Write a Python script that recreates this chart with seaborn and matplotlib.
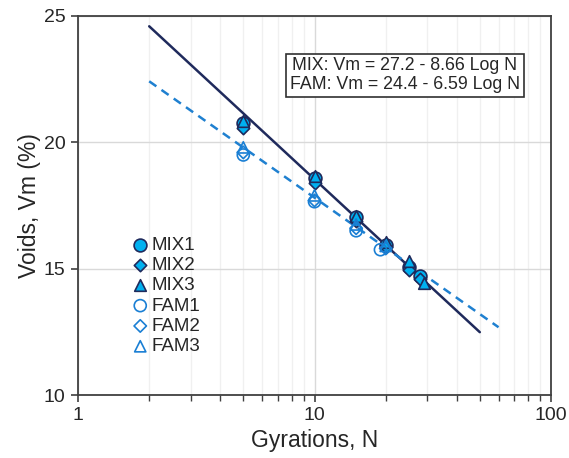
import matplotlib
matplotlib.use("Agg")
import matplotlib.pyplot as plt
import seaborn as sns
import numpy as np
import pandas as pd
from matplotlib.ticker import LogLocator, NullFormatter, FixedLocator

# ---- data ----
mix1_n = [5, 10, 15, 20, 25, 28]
mix1_v = [20.75, 18.6, 17.05, 15.95, 15.05, 14.7]
mix2_n = [5, 10, 15, 20, 25, 28]
mix2_v = [20.55, 18.4, 16.9, 15.85, 14.95, 14.6]
mix3_n = [5, 10, 15, 20, 25, 29]
mix3_v = [20.85, 18.65, 17.1, 16.05, 15.3, 14.45]
fam1_n = [5, 10, 15, 19]
fam1_v = [19.5, 17.65, 16.5, 15.75]
fam2_n = [5, 10, 15, 20]
fam2_v = [19.6, 17.7, 16.6, 15.8]
fam3_n = [5, 10, 15, 20]
fam3_v = [19.8, 17.9, 16.75, 15.9]

# regression equations shown in the chart: Vm = a - b Log N
mix_a, mix_b = 27.2, 8.66
fam_a, fam_b = 24.4, 6.59
mix_fit_n = [2, 50]
fam_fit_n = [2, 60]

x_ticks = [1, 10, 100]
y_ticks = [10, 15, 20, 25]

sns.set_theme(style="white")
plt.rcParams['font.family'] = ['Liberation Sans', 'DejaVu Sans']

fig = plt.figure(figsize=(5.69, 4.58), dpi=100)
ax = fig.add_axes([78/569, 1 - 395/458, (551-78)/569, (395-16)/458])

navy = "#1F2A5C"
mix_fill = "#00B0F0"
fam_edge = "#1A7FD4"
fam_line = "#1F80D0"

# grid
ax.set_xscale("log")
ax.set_xlim(1, 100)
ax.set_ylim(10, 25)
ax.xaxis.set_major_locator(FixedLocator(x_ticks))
ax.xaxis.set_minor_locator(LogLocator(base=10, subs=np.arange(2, 10)))
ax.xaxis.set_minor_formatter(NullFormatter())
ax.set_xticklabels([str(t) for t in x_ticks])
ax.set_yticks(y_ticks)
ax.grid(True, which="major", axis="both", color="#D9D9D9", lw=1.0, zorder=0)
ax.grid(True, which="minor", axis="x", color="#F0F0F0", lw=1.0, zorder=0)
ax.set_axisbelow(True)

# fit lines
df_mix = pd.DataFrame({"N": mix_fit_n, "Vm": [mix_a - mix_b*np.log10(n) for n in mix_fit_n]})
df_fam = pd.DataFrame({"N": fam_fit_n, "Vm": [fam_a - fam_b*np.log10(n) for n in fam_fit_n]})
sns.lineplot(data=df_mix, x="N", y="Vm", ax=ax, color=navy, lw=1.8, zorder=3)
sns.lineplot(data=df_fam, x="N", y="Vm", ax=ax, color=fam_line, lw=1.8, zorder=3,
             linestyle=(0, (3.5, 2.5)))

series = [
    ("MIX1", mix1_n, mix1_v, "o", mix_fill, navy, 85),
    ("MIX2", mix2_n, mix2_v, "D", mix_fill, navy, 40),
    ("MIX3", mix3_n, mix3_v, "^", mix_fill, navy, 70),
    ("FAM1", fam1_n, fam1_v, "o", "none", fam_edge, 75),
    ("FAM2", fam2_n, fam2_v, "D", "none", fam_edge, 40),
    ("FAM3", fam3_n, fam3_v, "^", "none", fam_edge, 65),
]
for name, ns, vs, mk, fc, ec, s in series:
    d = pd.DataFrame({"N": ns, "Vm": vs})
    sns.scatterplot(data=d, x="N", y="Vm", ax=ax, marker=mk, s=s,
                    facecolor=fc, edgecolor=ec, linewidth=1.2, label=name, zorder=4)

leg = ax.legend(loc="upper left", bbox_to_anchor=(0.088, 0.438), frameon=False,
                fontsize=13.5, handletextpad=-0.1, labelspacing=0.17,
                borderaxespad=0, handlelength=1.4)

for sp in ax.spines.values():
    sp.set_color("#404040")
    sp.set_linewidth(1.3)

ax.tick_params(axis="both", which="major", direction="out", length=5, width=1.2,
               color="#404040", labelsize=14, bottom=True, left=True, pad=4)
ax.tick_params(axis="x", which="minor", direction="out", length=4, width=1.0,
               color="#404040", bottom=True)

ax.set_xlabel("Gyrations, N", fontsize=16.5, labelpad=3)
ax.set_ylabel("Voids, Vm (%)", fontsize=16.5, labelpad=2)

ax.text(0.691, 0.844, "MIX: Vm = 27.2 - 8.66 Log N\nFAM: Vm = 24.4 - 6.59 Log N",
        transform=ax.transAxes, ha="center", va="center", fontsize=12.8,
        linespacing=1.1,
        bbox=dict(boxstyle="square,pad=0.22", fc="white", ec="#303030", lw=1.2))

fig.savefig("out.png", dpi=100)
